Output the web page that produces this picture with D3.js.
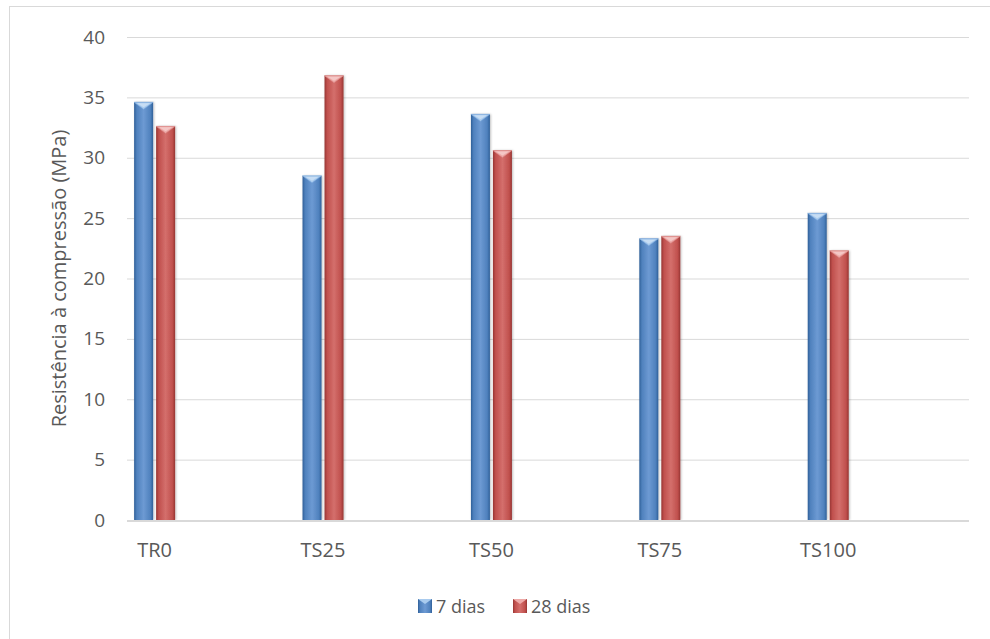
<!DOCTYPE html>
<html>
<head>
<meta charset="utf-8">
<script src="https://cdn.jsdelivr.net/npm/d3@7"></script>
<style>
  html, body { margin: 0; padding: 0; background: #fff; }
  svg { display: block; }
  text { font-family: "Open Sans", "Liberation Sans", sans-serif; fill: #595959; }
</style>
</head>
<body>
<svg id="chart" width="990" height="639"></svg>
<script>
// Compressive strength by mix, at 7 and 28 days
const categories = ["TR0", "TS25", "TS50", "TS75", "TS100"];
const seriesNames = ["7 dias", "28 dias"];
const dias7 = [34.6, 28.5, 33.6, 23.3, 25.4];
const dias28 = [32.6, 36.8, 30.6, 23.5, 22.3];
const yTicks = [0, 5, 10, 15, 20, 25, 30, 35, 40];
const yTitle = "Resistência à compressão (MPa)";

const svg = d3.select("#chart");
const W = 990, H = 639;
const plot = { left: 127, right: 969, top: 37, bottom: 520 };

const palette = [
  { base: "#4f81bd", dark: "#2f5f98", light: "#6d9ad3", cap: "#a9cbee", capEdge: "#7aa7dc" },
  { base: "#c0504d", dark: "#963532", light: "#d46f6c", cap: "#eeaaa8", capEdge: "#d98583" }
];

// Outer chart frame
svg.append("rect")
  .attr("x", 9.5).attr("y", 6.5)
  .attr("width", W).attr("height", H)
  .attr("fill", "none").attr("stroke", "#d9d9d9").attr("stroke-width", 1);

const defs = svg.append("defs");
palette.forEach((p, i) => {
  const g = defs.append("linearGradient").attr("id", "barGrad" + i)
    .attr("x1", "0").attr("x2", "1").attr("y1", "0").attr("y2", "0");
  g.append("stop").attr("offset", "0%").attr("stop-color", p.dark);
  g.append("stop").attr("offset", "14%").attr("stop-color", p.base);
  g.append("stop").attr("offset", "50%").attr("stop-color", p.light);
  g.append("stop").attr("offset", "86%").attr("stop-color", p.base);
  g.append("stop").attr("offset", "100%").attr("stop-color", p.dark);
});
const shadow = defs.append("filter").attr("id", "barShadow")
  .attr("x", "-30%").attr("y", "-5%").attr("width", "160%").attr("height", "110%");
shadow.append("feDropShadow").attr("dx", 1).attr("dy", 0).attr("stdDeviation", 1.2)
  .attr("flood-color", "#000").attr("flood-opacity", 0.25);

const x = d3.scaleBand().domain(categories).range([plot.left, plot.right]).paddingInner(0).paddingOuter(0);
const y = d3.scaleLinear().domain([0, 40]).range([plot.bottom, plot.top]);

// Gridlines
svg.append("g")
  .selectAll("line").data(yTicks.filter(d => d > 0)).join("line")
  .attr("x1", plot.left).attr("x2", plot.right)
  .attr("y1", d => y(d) + 0.5).attr("y2", d => y(d) + 0.5)
  .attr("stroke", "#d9d9d9").attr("stroke-width", 1);

// Y axis labels
const yAxis = svg.append("g")
  .attr("transform", `translate(${plot.left},0)`)
  .call(d3.axisLeft(y).tickValues(yTicks).tickSize(0).tickPadding(22).tickFormat(d3.format("d")));
yAxis.select(".domain").remove();
yAxis.selectAll("text").attr("font-size", 19).attr("fill", "#595959")
  .style("font-family", "'Open Sans', 'Liberation Sans', sans-serif");

// Y axis title
svg.append("text")
  .attr("transform", `translate(66,${(plot.top + plot.bottom) / 2}) rotate(-90)`)
  .attr("text-anchor", "middle")
  .attr("font-size", 20)
  .text(yTitle);

// Bars: group sits near the front-left of each category slot
const groupCenter = c => x(c) + x.bandwidth() * 0.164;
const barW = 19, barGap = 3;
const series = [dias7, dias28];

const bars = svg.append("g");
series.forEach((vals, si) => {
  const p = palette[si];
  const offset = si === 0 ? -(barW + barGap / 2) : barGap / 2;
  const g = bars.append("g");
  categories.forEach((c, ci) => {
    const v = vals[ci];
    const bx = groupCenter(c) + offset;
    const top = y(v), bottom = y(0);
    g.append("rect")
      .attr("x", bx).attr("y", top)
      .attr("width", barW).attr("height", bottom - top)
      .attr("fill", `url(#barGrad${si})`)
      .attr("filter", "url(#barShadow)");
    // bevelled cap
    g.append("path")
      .attr("d", `M${bx},${top} L${bx + barW},${top} L${bx + barW / 2},${top + 7} Z`)
      .attr("fill", p.cap).attr("stroke", p.capEdge).attr("stroke-width", 0.6);
    g.append("path")
      .attr("d", `M${bx + 3},${top + 1} L${bx + barW - 3},${top + 1} L${bx + barW / 2},${top + 5} Z`)
      .attr("fill", "#ffffff").attr("opacity", 0.35);
  });
});

// Base line (category axis)
svg.append("line")
  .attr("x1", plot.left).attr("x2", plot.right)
  .attr("y1", plot.bottom + 1).attr("y2", plot.bottom + 1)
  .attr("stroke", "#d9d9d9").attr("stroke-width", 2);

// Category labels
svg.append("g").selectAll("text").data(categories).join("text")
  .attr("x", d => groupCenter(d)).attr("y", 557)
  .attr("text-anchor", "middle").attr("font-size", 20)
  .text(d => d);

// Legend
const legend = svg.append("g");
const legendItems = [
  { name: seriesNames[0], x: 418, p: palette[0], i: 0 },
  { name: seriesNames[1], x: 513, p: palette[1], i: 1 }
];
legendItems.forEach(it => {
  const s = 14, ly = 599;
  legend.append("rect").attr("x", it.x).attr("y", ly).attr("width", s).attr("height", s)
    .attr("fill", `url(#barGrad${it.i})`);
  legend.append("path")
    .attr("d", `M${it.x},${ly} L${it.x + s},${ly} L${it.x + s / 2},${ly + 5} Z`)
    .attr("fill", it.p.cap);
  legend.append("text").attr("x", it.x + s + 4).attr("y", ly + 14)
    .attr("font-size", 18).text(it.name);
});
</script>
</body>
</html>
